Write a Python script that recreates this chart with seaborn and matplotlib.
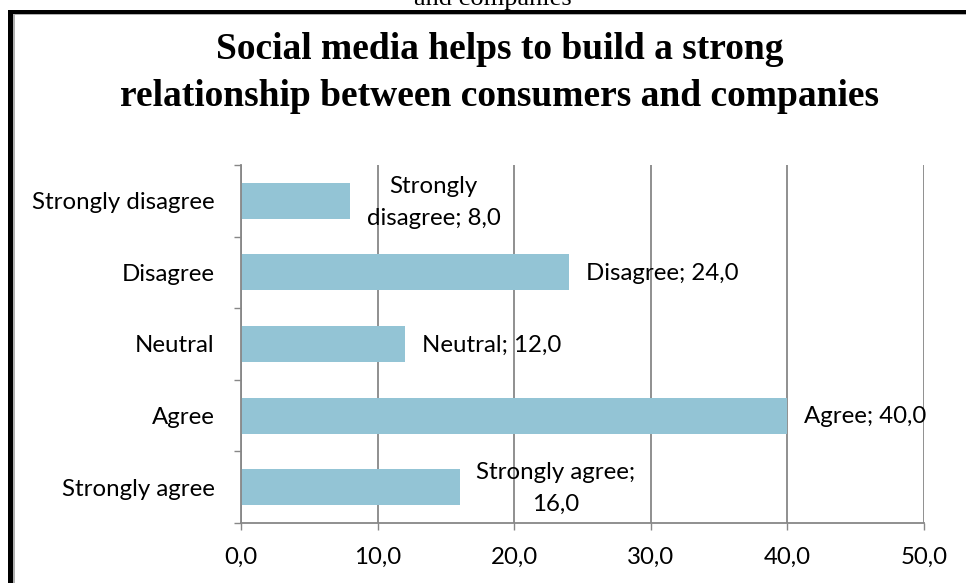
import textwrap

import matplotlib
matplotlib.use("Agg")
import matplotlib.pyplot as plt
import pandas as pd
import seaborn as sns
from matplotlib.patches import Rectangle
from matplotlib.ticker import FixedLocator, FuncFormatter

# Survey answers and their share of respondents (%)
responses = ["Strongly disagree", "Disagree", "Neutral", "Agree", "Strongly agree"]
percentages = [8.0, 24.0, 12.0, 40.0, 16.0]
x_ticks = [0, 10, 20, 30, 40, 50]
title = "Social media helps to build a strong\nrelationship between consumers and companies"
caption_tail = "and companies"

df = pd.DataFrame({"response": responses, "percent": percentages})

sns.set_theme(style="white")
plt.rcParams["font.family"] = ["Lato", "DejaVu Sans"]
plt.rcParams["text.color"] = "black"

W, H = 966, 583
fig = plt.figure(figsize=(W / 100, H / 100), dpi=100)
ax = fig.add_axes([241 / W, 1 - 523 / H, (924 - 241) / W, (523 - 165) / H])

bar_color = "#93C4D5"
grid_color = "#878787"
label_size = 17.3

sns.barplot(data=df, y="response", x="percent", order=responses, orient="h",
            color=bar_color, saturation=1, width=0.5, linewidth=0, ax=ax)

ax.set_xlim(0, 50)
ax.set_ylim(4.5, -0.5)
ax.set_xlabel("")
ax.set_ylabel("")

# x axis: comma decimals, outward ticks, vertical gridlines
ax.xaxis.set_major_locator(FixedLocator(x_ticks))
ax.xaxis.set_major_formatter(FuncFormatter(lambda v, p: f"{v:.1f}".replace(".", ",")))
ax.xaxis.grid(True, color=grid_color, linewidth=1.3)
ax.yaxis.grid(False)
ax.tick_params(axis="x", which="major", bottom=True, direction="out", length=5,
               width=1, color=grid_color, pad=12, labelsize=label_size,
               labelcolor="black")

# y axis: category labels without ticks, tick marks between categories
ax.tick_params(axis="y", which="major", left=True, length=0, pad=19,
               labelsize=label_size, labelcolor="black")
ax.yaxis.set_minor_locator(FixedLocator([i - 0.5 for i in range(len(responses) + 1)]))
ax.tick_params(axis="y", which="minor", left=True, direction="out", length=5,
               width=1, color=grid_color)

for side in ("top", "right"):
    ax.spines[side].set_visible(False)
for side in ("left", "bottom"):
    ax.spines[side].set_color(grid_color)
    ax.spines[side].set_linewidth(1.3)

# value labels: "<category>; <value>" placed past the end of each bar
wrap_widths = {"Strongly disagree": 13, "Strongly agree": 15}
for i, (resp, val) in enumerate(zip(responses, percentages)):
    text = f"{resp}; {val:.1f}".replace(".", ",")
    if resp in wrap_widths:
        text = textwrap.fill(text, wrap_widths[resp])
    ax.annotate(text, xy=(val, i), xytext=(12, -1), textcoords="offset points",
                ha="left", va="center", multialignment="center",
                fontsize=label_size, color="black", linespacing=1.65,
                annotation_clip=False)

# chart title
fig.text(500 / W, 1 - 32 / H, title, ha="center", va="top",
         family=["Liberation Serif", "DejaVu Serif"], weight="bold",
         fontsize=27, linespacing=1.45, color="black")

# tail of the caption line above the frame
fig.text(493 / W, 1 - 5 / H, caption_tail, ha="center", va="baseline",
         family=["Liberation Serif", "DejaVu Serif"], fontsize=19, color="black")

# frame around the chart
fig.patches.append(Rectangle((8 / W, 0), 5 / W, 1 - 10 / H, transform=fig.transFigure,
                             facecolor="black", edgecolor="none", zorder=5))
fig.patches.append(Rectangle((8 / W, 1 - 13.5 / H), 1 - 8 / W, 3.5 / H,
                             transform=fig.transFigure, facecolor="black",
                             edgecolor="none", zorder=5))
fig.patches.append(Rectangle((13 / W, 1 - 15 / H), 1 - 13 / W, 1.5 / H,
                             transform=fig.transFigure, facecolor="#b0b0b0",
                             edgecolor="none", zorder=4))
fig.patches.append(Rectangle((13 / W, 0), 1.5 / W, 1 - 13.5 / H,
                             transform=fig.transFigure, facecolor="#b0b0b0",
                             edgecolor="none", zorder=4))

fig.savefig("out.png", dpi=100)
